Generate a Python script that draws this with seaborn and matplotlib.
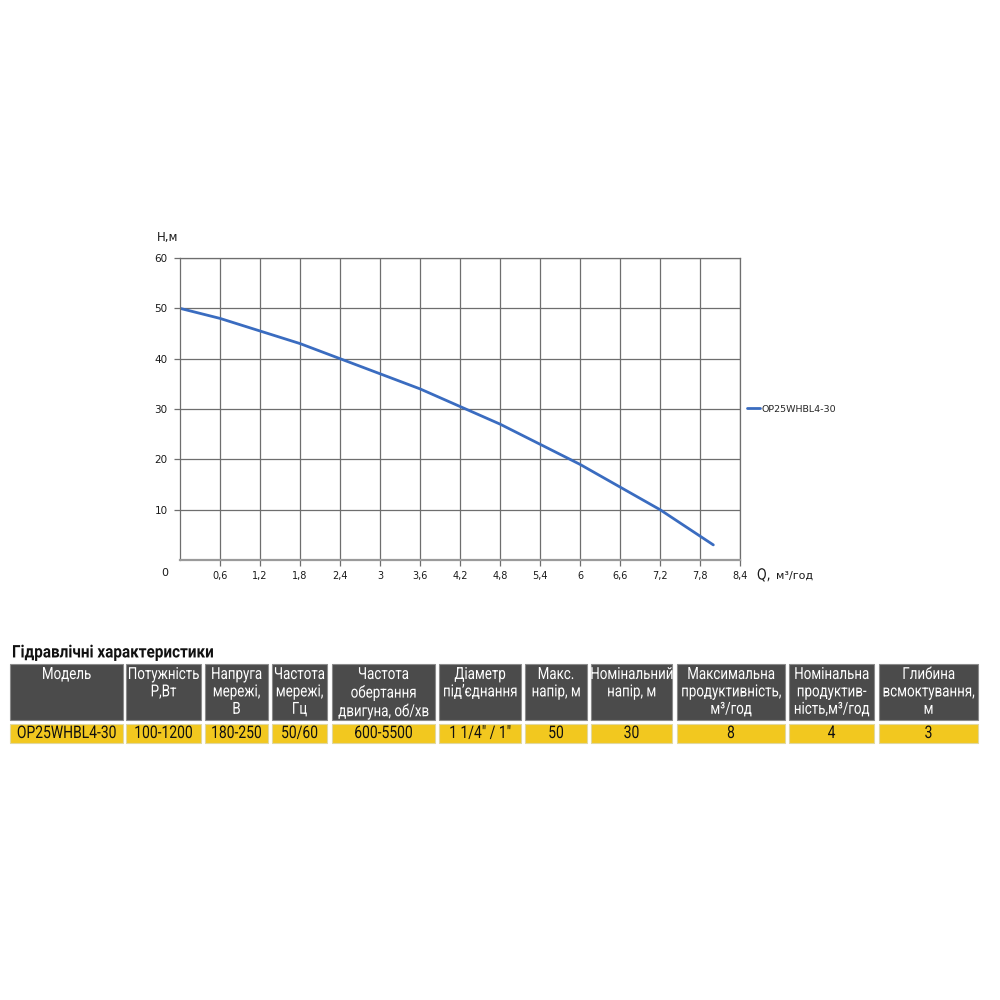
import matplotlib
matplotlib.use("Agg")
import matplotlib.pyplot as plt
from matplotlib.patches import Rectangle
from matplotlib.patheffects import AbstractPathEffect
from matplotlib.transforms import Affine2D
import pandas as pd
import seaborn as sns

# curve data
flow = [0.0, 0.6, 1.2, 1.8, 2.4, 3.0, 3.6, 4.2, 4.8, 5.4, 6.0, 6.6, 7.2, 8.0]
head = [50.0, 48.0, 45.5, 43.0, 40.0, 37.0, 34.0, 30.5, 27.0, 23.0, 19.0, 14.5, 10.0, 3.0]
series_name = "OP25WHBL4-30"

x_ticks = [0.6, 1.2, 1.8, 2.4, 3.0, 3.6, 4.2, 4.8, 5.4, 6.0, 6.6, 7.2, 7.8, 8.4]
x_tick_labels = ["0,6", "1,2", "1,8", "2,4", "3", "3,6", "4,2", "4,8", "5,4", "6", "6,6", "7,2", "7,8", "8,4"]
y_ticks = [10, 20, 30, 40, 50, 60]

# table data
table_title = "Гідравлічні характеристики"
headers = ["Модель", "Потужність\nP,Вт", "Напруга\nмережі,\nВ", "Частота\nмережі,\nГц",
           "Частота\nобертання\nдвигуна, об/хв", "Діаметр\nпід’єднання", "Макс.\nнапір, м",
           "Номінальний\nнапір, м", "Максимальна\nпродуктивність,\nм³/год",
           "Номінальна\nпродуктив-\nність,м³/год", "Глибина\nвсмоктування,\nм"]
values = ["OP25WHBL4-30", "100-1200", "180-250", "50/60", "600-5500", "1 1/4\" / 1\"",
          "50", "30", "8", "4", "3"]


# squeeze text horizontally around a fixed pixel x (condensed look)
class Squeeze(AbstractPathEffect):
    def __init__(self, cx, sx):
        super().__init__()
        self.cx = cx
        self.sx = sx

    def draw_path(self, renderer, gc, tpath, affine, rgbFace=None):
        t = affine + Affine2D().translate(-self.cx, 0).scale(self.sx, 1).translate(self.cx, 0)
        renderer.draw_path(gc, tpath, t, rgbFace)


sns.set_theme(style="white")
plt.rcParams["font.family"] = ["DejaVu Sans"]

W = H = 1000
fig = plt.figure(figsize=(10, 10), dpi=100)

ax = fig.add_axes([180 / W, 1 - 560 / H, 560 / W, 302 / H])
df = pd.DataFrame({"Q": flow, "H": head, "series": series_name})
sns.lineplot(data=df, x="Q", y="H", hue="series", palette=["#3a6cc0"], linewidth=2.0, ax=ax)

grid_c = "#6e6e6e"
ax.set_xlim(0, 8.4)
ax.set_ylim(0, 60)
ax.set_xticks(x_ticks)
ax.set_xticklabels(x_tick_labels, fontsize=7)
ax.set_yticks(y_ticks)
ax.set_yticklabels([str(v) for v in y_ticks], fontsize=7.5)
ax.set_xlabel("")
ax.set_ylabel("")
ax.grid(True, color=grid_c, linewidth=0.9)
for s in ["top", "right", "left"]:
    ax.spines[s].set_visible(True)
    ax.spines[s].set_color(grid_c)
    ax.spines[s].set_linewidth(0.9)
ax.spines["bottom"].set_color("#9a9a9a")
ax.spines["bottom"].set_linewidth(1.6)
ax.tick_params(axis="both", which="major", length=4, width=0.9, color=grid_c,
               bottom=True, left=True, labelcolor="#1a1a1a")
ax.tick_params(axis="x", pad=4)
ax.tick_params(axis="y", pad=5)

ax.legend(handles=ax.get_legend_handles_labels()[0], labels=[series_name],
          loc="center left", bbox_to_anchor=(0.998, 0.5), frameon=False,
          fontsize=6.8, handlelength=1.3, handletextpad=0.15)

fig.text(165 / W, 1 - 573 / H, "0", fontsize=8, ha="center", va="center", color="#1a1a1a")
fig.text(168 / W, 1 - 237 / H, "H,м", fontsize=8.5, ha="center", va="center", color="#1a1a1a")
fig.text(757 / W, 1 - 575 / H, "Q,", fontsize=11, ha="left", va="center", color="#1a1a1a",
         path_effects=[Squeeze(757, 0.8)])
fig.text(776 / W, 1 - 576 / H, "м³/год", fontsize=8, ha="left", va="center", color="#1a1a1a")

# table
narrow = ["Roboto", "DejaVu Sans"]
fig.text(12 / W, 1 - 653 / H, table_title, fontsize=12.5, fontweight="bold",
         ha="left", va="center", family=narrow, color="#111111",
         path_effects=[Squeeze(12, 0.88)])

col_edges = [(10, 123), (126, 201), (205, 268), (272, 327), (332, 435), (439, 521),
             (525, 587), (591, 672), (677, 785), (789, 874), (879, 978)]
head_top, head_bot = 664, 720
val_top, val_bot = 724, 743
for (x0, x1), h, v in zip(col_edges, headers, values):
    cx = (x0 + x1) / 2
    fig.patches.append(Rectangle((x0 / W, 1 - head_bot / H), (x1 - x0) / W,
                                 (head_bot - head_top) / H, transform=fig.transFigure,
                                 facecolor="#4b4b4b", edgecolor="#8a8a8a", linewidth=0.8))
    fig.patches.append(Rectangle((x0 / W, 1 - val_bot / H), (x1 - x0) / W,
                                 (val_bot - val_top) / H, transform=fig.transFigure,
                                 facecolor="#f2c81f", edgecolor="#e0d8a0", linewidth=0.8))
    fig.text(cx / W, 1 - (head_top + 3) / H, h, fontsize=12, color="white",
             ha="center", va="top", family=narrow, linespacing=1.2,
             path_effects=[Squeeze(cx, 0.8)])
    fig.text(cx / W, 1 - (val_top + val_bot) / 2 / H, v, fontsize=12.5,
             color="#111111", ha="center", va="center", family=narrow,
             path_effects=[Squeeze(cx, 0.8)])

fig.savefig("out.png", dpi=100, facecolor="white")
